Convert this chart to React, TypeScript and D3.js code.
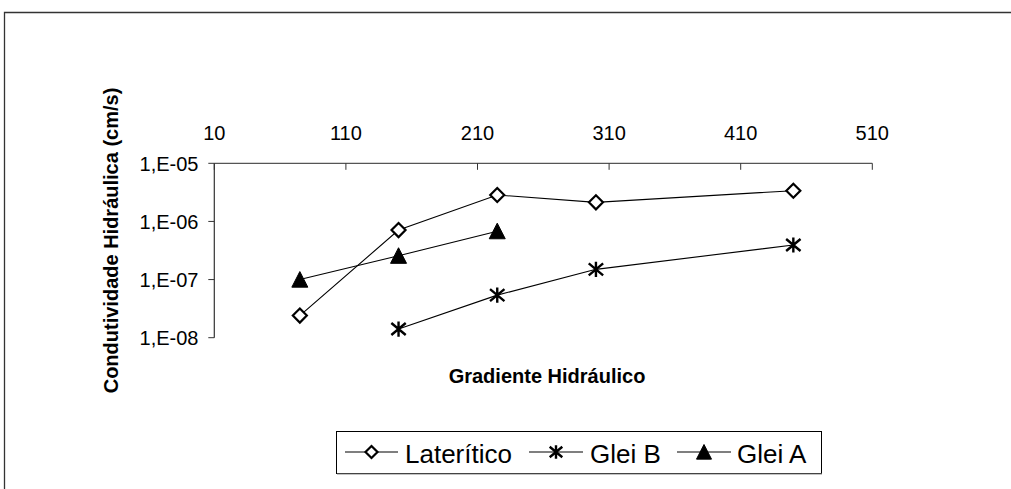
import React from "react";
import * as d3 from "d3";

const xTicks = [10, 110, 210, 310, 410, 510];
const yTicks = [1e-5, 1e-6, 1e-7, 1e-8];
const yTickLabels = ["1,E-05", "1,E-06", "1,E-07", "1,E-08"];

const lateriticoX = [75, 150, 225, 300, 450];
const lateriticoY = [2.4e-8, 7.1e-7, 2.85e-6, 2.13e-6, 3.38e-6];
const gleiBX = [150, 225, 300, 450];
const gleiBY = [1.41e-8, 5.4e-8, 1.5e-7, 3.93e-7];
const gleiAX = [75, 150, 225];
const gleiAY = [1.0e-7, 2.57e-7, 6.8e-7];

const seriesNames = ["Laterítico", "Glei B", "Glei A"];

const W = 1011;
const H = 489;
const FONT = "'Liberation Sans', Arial, sans-serif";

const x = d3.scaleLinear().domain([10, 510]).range([214.3, 872.3]);
const y = d3.scaleLog().domain([1e-8, 1e-5]).range([337.7, 163.3]);

function Diamond({ cx, cy, s = 7 }: { cx: number; cy: number; s?: number }) {
  return (
    <path
      d={`M${cx},${cy - s}L${cx + s},${cy}L${cx},${cy + s}L${cx - s},${cy}Z`}
      fill="#fff"
      stroke="#000"
      strokeWidth={2.2}
    />
  );
}

function Star({ cx, cy, s = 8 }: { cx: number; cy: number; s?: number }) {
  const dx = s * 0.9;
  const dy = s * 0.75;
  return (
    <path
      d={`M${cx},${cy - s * 0.95}L${cx},${cy + s * 0.95}M${cx - dx},${cy - dy}L${cx + dx},${cy + dy}M${cx - dx},${cy + dy}L${cx + dx},${cy - dy}`}
      stroke="#000"
      strokeWidth={2.4}
      fill="none"
    />
  );
}

function Tri({ cx, cy, s = 8 }: { cx: number; cy: number; s?: number }) {
  return (
    <path
      d={`M${cx},${cy - s}L${cx + s},${cy + s * 0.95}L${cx - s},${cy + s * 0.95}Z`}
      fill="#000"
      stroke="#000"
      strokeWidth={1}
    />
  );
}

export default function App() {
  const line = d3
    .line<[number, number]>()
    .x((d) => x(d[0]))
    .y((d) => y(d[1]));
  const lat = lateriticoX.map((v, i) => [v, lateriticoY[i]] as [number, number]);
  const gb = gleiBX.map((v, i) => [v, gleiBY[i]] as [number, number]);
  const ga = gleiAX.map((v, i) => [v, gleiAY[i]] as [number, number]);

  const axisColor = "#555";
  const legendY = 452;

  return (
    <svg
      width={W}
      height={H}
      style={{ position: "absolute", left: 0, top: 0, background: "#fff" }}
      fontFamily={FONT}
    >
      <rect x={0} y={0} width={W} height={H} fill="#fff" />
      {/* outer chart border */}
      <path d={`M4.5,${H + 5}L4.5,12.5L${W + 5},12.5`} fill="none" stroke="#333" strokeWidth={1.3} />

      {/* axes */}
      <line x1={x(10)} x2={x(510)} y1={y(1e-5)} y2={y(1e-5)} stroke={axisColor} strokeWidth={1.2} />
      <line x1={x(10)} x2={x(10)} y1={y(1e-5)} y2={y(1e-8)} stroke="#333" strokeWidth={1.2} />
      {xTicks.map((t) => (
        <g key={"xt" + t}>
          <line x1={x(t)} x2={x(t)} y1={y(1e-5)} y2={y(1e-5) + 6.5} stroke="#333" strokeWidth={1} />
          <text x={x(t)} y={139.5} textAnchor="middle" fontSize={20} fill="#000">
            {t}
          </text>
        </g>
      ))}
      {yTicks.map((t, i) => (
        <g key={"yt" + i}>
          <line x1={x(10) - 6} x2={x(10)} y1={y(t)} y2={y(t)} stroke="#333" strokeWidth={1} />
          <text x={198.5} y={y(t) + 7.2} textAnchor="end" fontSize={20} fill="#000">
            {yTickLabels[i]}
          </text>
        </g>
      ))}

      {/* axis titles */}
      <text
        transform={`translate(118,240.5) rotate(-90)`}
        textAnchor="middle"
        fontSize={20}
        fontWeight="bold"
        fill="#000"
      >
        Condutividade Hidráulica (cm/s)
      </text>
      <text x={547} y={383} textAnchor="middle" fontSize={20} fontWeight="bold" fill="#000">
        Gradiente Hidráulico
      </text>

      {/* lines */}
      <path d={line(lat) || ""} fill="none" stroke="#000" strokeWidth={1.1} />
      <path d={line(gb) || ""} fill="none" stroke="#000" strokeWidth={1.1} />
      <path d={line(ga) || ""} fill="none" stroke="#000" strokeWidth={1.1} />

      {/* markers */}
      {ga.map((d, i) => (
        <Tri key={"ga" + i} cx={x(d[0])} cy={y(d[1])} />
      ))}
      {lat.map((d, i) => (
        <Diamond key={"lat" + i} cx={x(d[0])} cy={y(d[1])} />
      ))}
      {gb.map((d, i) => (
        <Star key={"gb" + i} cx={x(d[0])} cy={y(d[1])} />
      ))}

      {/* legend */}
      <rect x={336.5} y={431.5} width={485} height={42} fill="#fff" stroke="#000" strokeWidth={1} />
      <line x1={337} x2={822} y1={474} y2={474} stroke="#888" strokeWidth={1} />
      <line x1={345} x2={398} y1={legendY} y2={legendY} stroke="#000" strokeWidth={1.1} />
      <Diamond cx={371.5} cy={legendY} s={6} />
      <text x={405} y={462.5} fontSize={26} fill="#000">
        {seriesNames[0]}
      </text>
      <line x1={529} x2={583} y1={legendY} y2={legendY} stroke="#000" strokeWidth={1.1} />
      <Star cx={556} cy={legendY} s={7} />
      <text x={590} y={462.5} fontSize={26} fill="#000">
        {seriesNames[1]}
      </text>
      <line x1={677} x2={731} y1={legendY} y2={legendY} stroke="#000" strokeWidth={1.1} />
      <Tri cx={704} cy={legendY} s={7.5} />
      <text x={737} y={462.5} fontSize={26} fill="#000">
        {seriesNames[2]}
      </text>
    </svg>
  );
}
